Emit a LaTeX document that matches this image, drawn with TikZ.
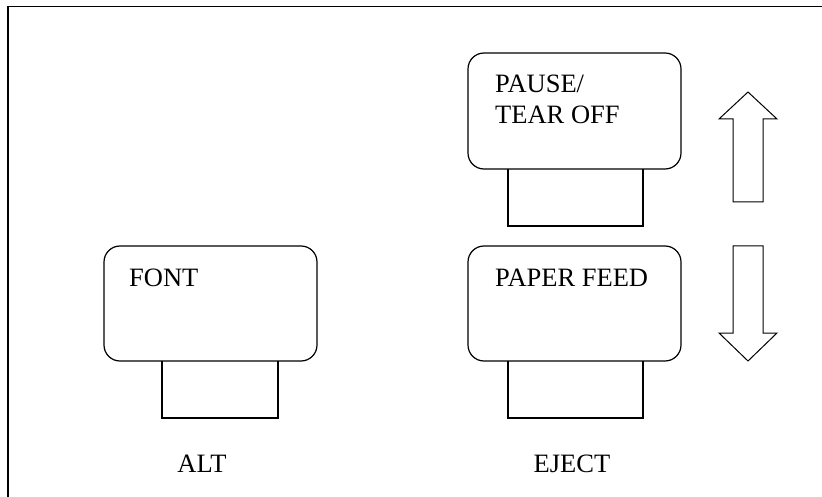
\documentclass[tikz,border=0pt]{standalone}
\usepackage{fontspec}
\setmainfont{Liberation Serif}
\begin{document}
\begin{tikzpicture}[x=1pt,y=-1pt,
  keycap/.style={draw,line width=1.2pt,rounded corners=16pt},
  stem/.style={draw,line width=1.2pt},
  arr/.style={draw,line width=1pt,line join=miter},
  lbl/.style={inner sep=0pt,font=\fontsize{26.5}{31}\selectfont},
  frameline/.style={line width=1.6pt}]
\useasboundingbox (0,0) rectangle (822,497);
% frame
\coordinate (ftl) at (8,6.7);
\coordinate (ftr) at (822,6.7);
\coordinate (fbl) at (8,497);
\draw[frameline] (ftr) -- (ftl) -- (fbl);
% FONT key
\path[keycap] (104,246) rectangle (317,361);
\path[stem] (162,361) -- (162,418) -- (278,418) -- (278,361);
\node[lbl,anchor=base west] (font) at (129,286) {FONT};
\node[lbl,anchor=base] (alt) at (202,472) {ALT};
% PAUSE key
\path[keycap] (468,53) rectangle (681,169);
\path[stem] (508,169) -- (508,226) -- (643,226) -- (643,169);
\node[lbl,anchor=base west] (pause) at (495,93) {PAUSE/};
\node[lbl,anchor=base west] (tear) at (495,124) {TEAR OFF};
% PAPER FEED key
\path[keycap] (468,246) rectangle (681,361);
\path[stem] (508,361) -- (508,418) -- (643,418) -- (643,361);
\node[lbl,anchor=base west] (feed) at (495,286) {PAPER FEED};
\node[lbl,anchor=base] (eject) at (572,472) {EJECT};
% up arrow
\path[arr] (733,202) -- (733,119) -- (719,119) -- (748,92) -- (777,119) -- (763,119) -- (763,202) -- cycle;
% down arrow
\path[arr] (733,246) -- (733,333) -- (719,333) -- (748,361) -- (777,333) -- (763,333) -- (763,246) -- cycle;
\end{tikzpicture}
\end{document}
